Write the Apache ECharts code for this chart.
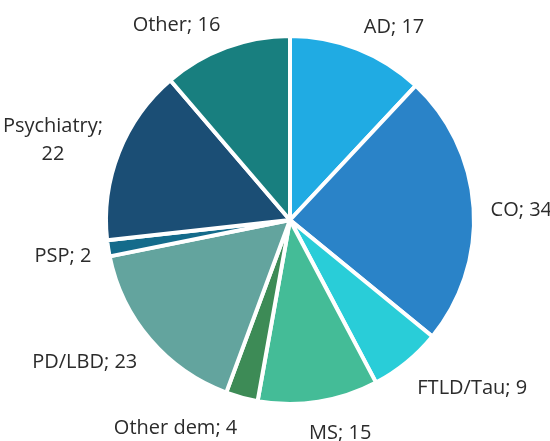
<!DOCTYPE html>
<html>
  <head>
    <meta charset="utf-8">
    <script src="https://cdn.jsdelivr.net/npm/echarts@6/dist/echarts.min.js"></script>
    <style>
      html, body { margin: 0; padding: 0; background: #fff; }
    </style>
  </head>
  <body>
    <div id="chart" style="width: 550px; height: 441px;"></div>
    <script type="text/javascript">
      var categories = ['AD', 'CO', 'FTLD/Tau', 'MS', 'Other dem', 'PD/LBD', 'PSP', 'Psychiatry', 'Other'];
      var counts = [17, 34, 9, 15, 4, 23, 2, 22, 16];
      var colors = ['#20ABE3', '#2A83C8', '#29CDD8', '#44BC97', '#3D8B56', '#63A49E', '#146B8B', '#1B4E75', '#187F7F'];

      var pieCenter = [290, 220];
      var pieRadius = 184;
      var labelGap = 17;

      // mid angle of every slice, clockwise from 12 o'clock
      var total = counts.reduce(function (a, b) { return a + b; }, 0);
      var midAngles = [];
      var acc = 0;
      counts.forEach(function (v) {
        midAngles.push((acc + v / 2) / total * Math.PI * 2);
        acc += v;
      });

      var chart = echarts.init(document.getElementById('chart'));
      chart.setOption({
        backgroundColor: '#fff',
        animation: false,
        series: [{
          type: 'pie',
          center: pieCenter,
          radius: [0, pieRadius],
          startAngle: 90,
          clockwise: true,
          avoidLabelOverlap: false,
          data: categories.map(function (name, i) {
            return { name: name, value: counts[i], itemStyle: { color: colors[i] } };
          }),
          itemStyle: { borderColor: '#fff', borderWidth: 4 },
          label: {
            show: true,
            position: 'outside',
            formatter: function (p) {
              // long label wraps in the original
              if (p.name === 'Psychiatry') return '{c|Psychiatry;}\n{c|' + p.value + '}';
              return p.name + '; ' + p.value;
            },
            rich: {
              c: { width: 100, align: 'center', fontFamily: 'Open Sans', fontSize: 20, lineHeight: 28, color: '#2b2b2b' }
            },
            fontFamily: 'Open Sans',
            fontSize: 20,
            lineHeight: 22,
            color: '#2b2b2b'
          },
          labelLine: { show: false },
          // place label boxes just outside the rim, like the office chart does
          labelLayout: function (params) {
            var a = midAngles[params.dataIndex];
            var nx = Math.sin(a), ny = -Math.cos(a);
            var w = params.labelRect.width, h = params.labelRect.height;
            var f = Math.max(-1, Math.min(1, nx * 4));
            var r = pieRadius + labelGap;
            return {
              x: pieCenter[0] + r * nx + w / 2 * f,
              y: pieCenter[1] + r * ny + h / 2 * ny + 4,
              align: 'center',
              verticalAlign: 'middle'
            };
          }
        }]
      });
    </script>
  </body>
</html>
